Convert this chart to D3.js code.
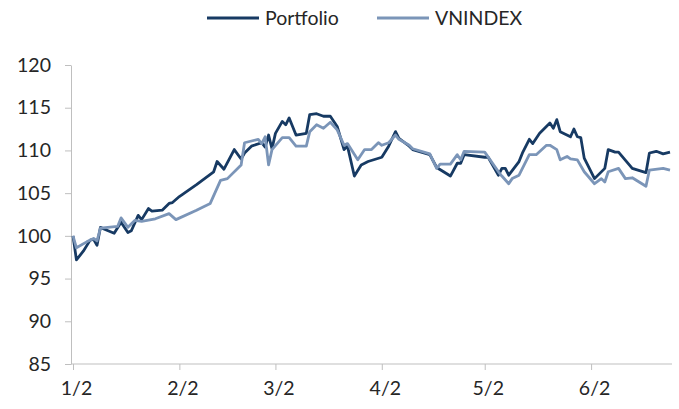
<!DOCTYPE html>
<html>
<head>
<meta charset="utf-8">
<script src="https://cdn.jsdelivr.net/npm/d3@7"></script>
<style>
  body { margin: 0; background: #fff; }
  text { font-family: Lato, "Open Sans", sans-serif; fill: #262626; }
</style>
</head>
<body>
<svg width="679" height="409"></svg>
<script>
// === Data

const YEAR = 2018;
const PORTFOLIO_DATES = ['01-02', '01-03', '01-05', '01-07', '01-08', '01-09', '01-10', '01-11', '01-14', '01-16',
  '01-18', '01-19', '01-21', '01-22', '01-24', '01-25', '01-28', '01-30', '01-31', '02-02',
  '02-07', '02-12', '02-13', '02-15', '02-18', '02-20', '02-21', '02-23', '02-26', '02-27',
  '02-28', '03-01', '03-02', '03-04', '03-05', '03-06', '03-08', '03-11', '03-12', '03-14',
  '03-16', '03-18', '03-20', '03-22', '03-23', '03-25', '03-27', '03-29', '04-02', '04-04',
  '04-06', '04-07', '04-10', '04-11', '04-16', '04-18', '04-20', '04-22', '04-24', '04-25',
  '04-26', '05-02', '05-03', '05-06', '05-07', '05-08', '05-09', '05-12', '05-13', '05-15',
  '05-16', '05-18', '05-21', '05-22', '05-23', '05-24', '05-27', '05-28', '05-29', '05-30',
  '05-31', '06-03', '06-06', '06-07', '06-09', '06-10', '06-14', '06-18', '06-19', '06-21',
  '06-23', '06-25'];
const PORTFOLIO_VALUES = [100.0, 97.2, 98.2, 99.5, 99.6, 98.9, 101.0, 100.8, 100.3, 101.6,
  100.4, 100.6, 102.4, 101.9, 103.2, 102.9, 103.0, 103.8, 103.9, 104.6,
  106.0, 107.5, 108.7, 107.8, 110.1, 109.0, 109.7, 110.5, 110.9, 110.4,
  111.8, 110.2, 112.0, 113.4, 113.0, 113.8, 111.8, 112.0, 114.2, 114.3,
  114.0, 114.0, 112.8, 110.1, 110.5, 107.0, 108.3, 108.7, 109.2, 110.5,
  112.2, 111.4, 110.5, 110.1, 109.5, 108.0, 107.5, 107.0, 108.5, 108.5,
  109.5, 109.2, 109.2, 107.1, 107.9, 107.9, 107.1, 108.7, 109.7, 111.3,
  110.8, 112.0, 113.2, 112.6, 113.6, 112.2, 111.6, 112.5, 111.6, 111.5,
  109.1, 106.7, 107.9, 110.1, 109.8, 109.8, 107.9, 107.4, 109.7, 109.9,
  109.6, 109.8];

const VNINDEX_DATES = ['01-02', '01-03', '01-06', '01-08', '01-09', '01-10', '01-15', '01-16', '01-18', '01-20',
  '01-22', '01-26', '01-30', '02-01', '02-07', '02-11', '02-14', '02-16', '02-20', '02-21',
  '02-25', '02-26', '02-27', '02-28', '03-01', '03-04', '03-06', '03-08', '03-11', '03-12',
  '03-14', '03-16', '03-18', '03-20', '03-22', '03-23', '03-26', '03-28', '03-30', '04-01',
  '04-02', '04-04', '04-06', '04-07', '04-10', '04-11', '04-16', '04-18', '04-19', '04-22',
  '04-24', '04-25', '04-26', '05-02', '05-06', '05-07', '05-09', '05-10', '05-12', '05-15',
  '05-17', '05-20', '05-21', '05-23', '05-24', '05-26', '05-27', '05-29', '05-31', '06-03',
  '06-05', '06-06', '06-07', '06-10', '06-12', '06-14', '06-18', '06-19', '06-23', '06-25'];
const VNINDEX_VALUES = [100.0, 98.6, 99.3, 99.7, 99.4, 100.9, 101.1, 102.1, 101.0, 101.8,
  101.7, 102.0, 102.6, 101.9, 103.0, 103.8, 106.5, 106.7, 108.3, 110.9,
  111.3, 110.8, 111.6, 108.3, 110.1, 111.5, 111.5, 110.5, 110.5, 112.2,
  113.0, 112.6, 113.3, 112.4, 110.6, 110.8, 108.9, 110.1, 110.1, 110.9,
  110.6, 110.9, 111.8, 111.3, 110.6, 110.2, 109.6, 107.9, 108.4, 108.4,
  109.5, 108.9, 109.9, 109.8, 107.5, 107.0, 106.1, 106.7, 107.1, 109.5,
  109.5, 110.6, 110.6, 110.1, 108.9, 109.3, 109.0, 108.9, 107.5, 106.1,
  106.7, 106.3, 107.5, 107.9, 106.7, 106.8, 105.8, 107.7, 107.9, 107.7];

const SERIES_NAMES = ['Portfolio', 'VNINDEX'];
const X_TICKS = ['01-02', '02-02', '03-02', '04-02', '05-02', '06-02'];
const X_DOMAIN = ['01-02', '06-25'];
const Y_TICKS = [85, 90, 95, 100, 105, 110, 115, 120];


// === Config

const WIDTH = 679;
const HEIGHT = 409;
const PLOT = { left: 73, right: 670, top: 65, bottom: 364 };
const COLORS = ['#173a63', '#7b95b8'];
const AXIS_COLOR = '#bfbfbf';
const FONT_SIZE = 19.5;
const LINE_WIDTH = 2.8;

const parse = s => d3.timeParse('%Y-%m-%d')(YEAR + '-' + s);


// === Main

function main() {
  const svg = d3.select('svg');

  const x = d3.scaleTime()
    .domain(X_DOMAIN.map(parse))
    .range([PLOT.left, PLOT.right]);
  const y = d3.scaleLinear()
    .domain([d3.min(Y_TICKS), d3.max(Y_TICKS)])
    .range([PLOT.bottom, PLOT.top]);

  // axes
  const yAxis = d3.axisLeft(y)
    .tickValues(Y_TICKS)
    .tickSize(6)
    .tickSizeOuter(0)
    .tickPadding(14);
  const yNode = svg.append('g')
    .attr('transform', `translate(${PLOT.left - 2},0)`)
    .call(yAxis);

  const xAxis = d3.axisBottom(x)
    .tickValues(X_TICKS.map(parse))
    .tickFormat(d3.timeFormat('%-m/%-d'))
    .tickSize(6)
    .tickSizeOuter(0)
    .tickPadding(11);
  const xNode = svg.append('g')
    .attr('transform', `translate(0,${PLOT.bottom})`)
    .call(xAxis);
  xNode.select('.domain').attr('d', `M${PLOT.left - 2},0H${WIDTH - 7}`);

  [yNode, xNode].forEach(function(node) {
    node.select('.domain').attr('stroke', AXIS_COLOR).attr('stroke-width', 1);
    node.selectAll('.tick line').attr('stroke', AXIS_COLOR);
    node.selectAll('.tick text')
      .attr('font-family', 'Lato, "Open Sans", sans-serif')
      .attr('font-size', FONT_SIZE)
      .attr('fill', '#262626');
  });
  xNode.selectAll('.tick text').attr('dx', 3);

  // lines
  const series = [
    { name: SERIES_NAMES[0], dates: PORTFOLIO_DATES, values: PORTFOLIO_VALUES },
    { name: SERIES_NAMES[1], dates: VNINDEX_DATES, values: VNINDEX_VALUES }
  ];
  const line = d3.line()
    .x(d => x(d.date))
    .y(d => y(d.value));

  svg.append('g').selectAll('path.series')
    .data(series)
    .enter()
    .append('path')
    .attr('class', 'series')
    .attr('fill', 'none')
    .attr('stroke', (d, i) => COLORS[i])
    .attr('stroke-width', LINE_WIDTH)
    .attr('stroke-linejoin', 'round')
    .attr('d', s => line(s.dates.map((dt, i) => ({ date: parse(dt), value: s.values[i] }))));

  // legend
  const legendPos = [207, 377];
  const legend = svg.append('g').selectAll('g')
    .data(series)
    .enter()
    .append('g')
    .attr('transform', (d, i) => `translate(${legendPos[i]},18)`);
  legend.append('line')
    .attr('x1', 0).attr('x2', 52)
    .attr('stroke', (d, i) => COLORS[i])
    .attr('stroke-width', LINE_WIDTH);
  legend.append('text')
    .attr('x', 58)
    .attr('dy', '0.35em')
    .attr('font-size', FONT_SIZE)
    .text(d => d.name);
}

main();
</script>
</body>
</html>
